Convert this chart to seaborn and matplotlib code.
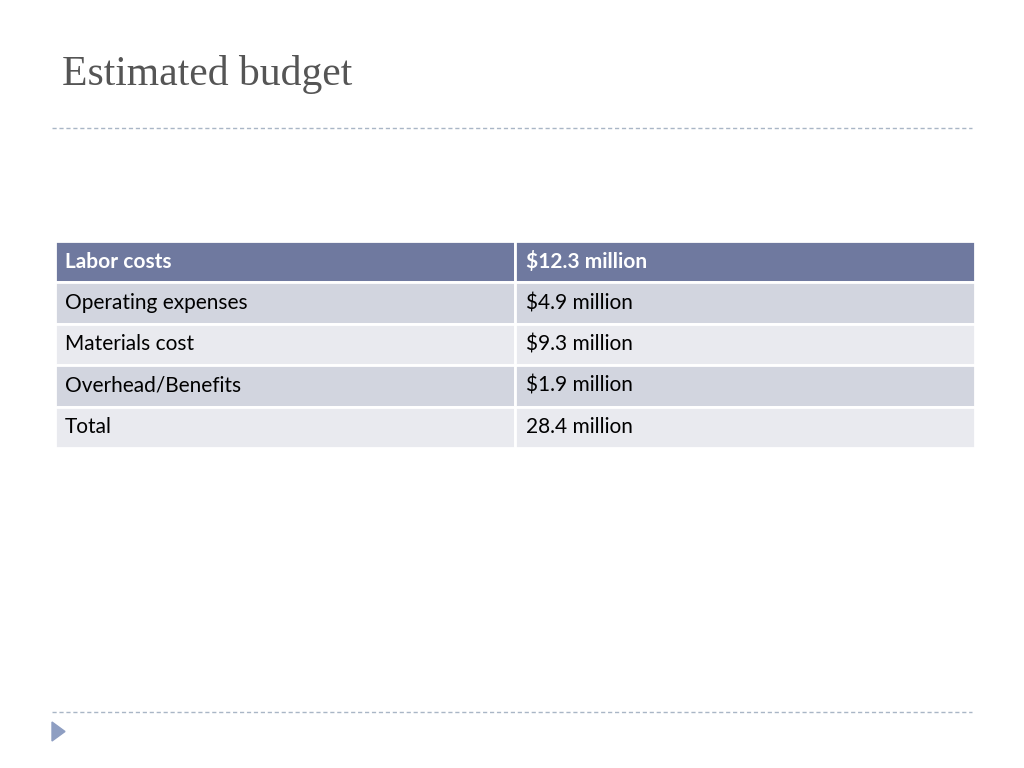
import matplotlib
matplotlib.use("Agg")
import matplotlib.pyplot as plt
import seaborn as sns
from matplotlib.patches import Rectangle, Polygon

sns.set_theme(style="white")
plt.rcParams['font.family'] = ['Lato', 'DejaVu Sans']

title = "Estimated budget"
header = ["Labor costs", "$12.3 million"]
items = ["Operating expenses", "Materials cost", "Overhead/Benefits", "Total"]
amounts = ["$4.9 million", "$9.3 million", "$1.9 million", "28.4 million"]

fig = plt.figure(figsize=(10.24, 7.68), dpi=100)
ax = fig.add_axes([0, 0, 1, 1])
ax.set_xlim(0, 1024); ax.set_ylim(768, 0); ax.axis('off')

ax.text(62, 75, title, fontsize=30, color='#555555', family='Liberation Serif', va='center')
for y in (128, 712):
    ax.plot([52, 972], [y, y], ls=(0, (3, 2)), color='#A9B6C6', lw=1)
ax.add_patch(Polygon([[52, 722], [52, 741], [65, 731.5]], color='#8E9EC2'))

x0, xm, x1 = 55, 515, 975
top, h = 241, 41.4
rows = [header] + [[a, b] for a, b in zip(items, amounts)]
fills = ['#6F799F', '#D2D5DF', '#E9EAEF', '#D2D5DF', '#E9EAEF']
for i, (a, b) in enumerate(rows):
    y = top + i * h
    for (xa, xb) in ((x0, xm), (xm, x1)):
        ax.add_patch(Rectangle((xa, y), xb - xa, h, facecolor=fills[i], edgecolor='white', lw=2))
    style = dict(fontsize=15, va='center', color='white' if i == 0 else 'black',
                 fontweight='bold' if i == 0 else 'normal')
    ax.text(x0 + 10, y + h / 2, a, **style)
    ax.text(xm + 11, y + h / 2, b, **style)

fig.savefig("out.png", dpi=100)
